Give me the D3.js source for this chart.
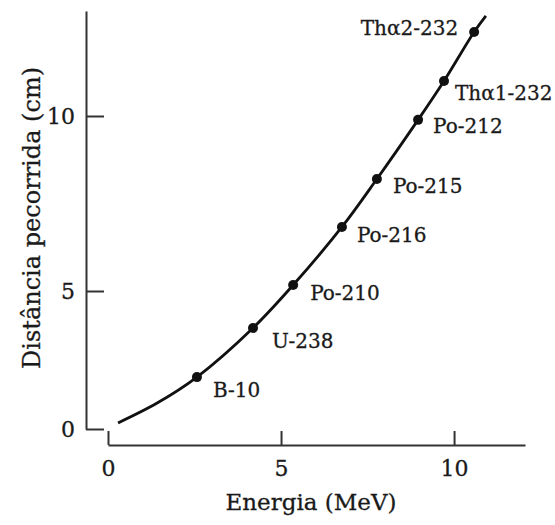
<!DOCTYPE html>
<html>
<head>
<meta charset="utf-8">
<script src="https://cdn.jsdelivr.net/npm/d3@7"></script>
<style>
  body { margin: 0; background: #fff; }
  svg text { font-family: "DejaVu Serif", serif; fill: #1a1a1a; stroke: #1a1a1a; stroke-width: 0.3px; }
</style>
</head>
<body>
<div id="chart"></div>
<script>
// alpha emitters: energy (MeV) vs range in air (cm)
var isotopes = ["B-10", "U-238", "Po-210", "Po-216", "Po-215", "Po-212", "Thα1-232", "Thα2-232"];
var energy = [2.57, 4.19, 5.35, 6.76, 7.77, 8.96, 9.71, 10.58];
var range = [1.88, 3.66, 5.17, 6.83, 8.2, 9.89, 11.0, 12.4];

// extra points along the drawn curve (ends of the line)
var curveEnergy = [0.29, 1.42, 2.57, 4.19, 5.35, 6.76, 7.77, 8.96, 9.71, 10.58, 10.92];
var curveRange = [0.22, 0.94, 1.88, 3.66, 5.17, 6.83, 8.2, 9.89, 11.0, 12.4, 12.86];

var xTicks = [0, 5, 10];
var yTicks = [0, 5, 10];

var svgWidth = 555;
var svgHeight = 525;

var svg = d3.select("#chart")
    .append("svg")
    .attr("width", svgWidth)
    .attr("height", svgHeight);

// x axis scale
var x = d3.scaleLinear()
    .domain([0, 12.05])
    .range([108, 525]);

// the scanned figure is not evenly spaced on y, so use a piecewise scale
var y = d3.scaleLinear()
    .domain([0, 5, 10, 13])
    .range([429, 291, 116, 11]);

// y axis
var yAxis = svg.append("g")
    .attr("transform", "translate(86,0)")
    .call(d3.axisLeft(y).tickValues(yTicks).tickSize(-18).tickSizeOuter(0).tickPadding(11));

// x axis
var xAxis = svg.append("g")
    .attr("transform", "translate(0,445)")
    .call(d3.axisBottom(x).tickValues(xTicks).tickSize(-14).tickSizeOuter(0).tickPadding(15));

svg.selectAll(".domain, .tick line")
    .attr("stroke", "#333")
    .attr("stroke-width", 2);

svg.selectAll(".tick text")
    .attr("font-size", "22px")
    .attr("fill", "#1a1a1a");

// axis titles
svg.append("text")
    .attr("x", 311)
    .attr("y", 510)
    .attr("text-anchor", "middle")
    .attr("font-size", "23px")
    .text("Energia (MeV)");

svg.append("text")
    .attr("transform", "translate(40,218) rotate(-90)")
    .attr("text-anchor", "middle")
    .attr("font-size", "24px")
    .text("Distância pecorrida (cm)");

// curve
var curveData = curveEnergy.map(function(e, i) { return [e, curveRange[i]]; });

var line = d3.line()
    .x(d => x(d[0]))
    .y(d => y(d[1]))
    .curve(d3.curveCatmullRom.alpha(0.5));

svg.append("path")
    .datum(curveData)
    .attr("d", line)
    .attr("fill", "none")
    .attr("stroke", "#111")
    .attr("stroke-width", 2.8);

// points
var points = isotopes.map(function(name, i) {
    return { name: name, energy: energy[i], range: range[i] };
});

svg.selectAll("circle")
    .data(points)
    .enter()
    .append("circle")
    .attr("cx", d => x(d.energy))
    .attr("cy", d => y(d.range))
    .attr("r", 5)
    .attr("fill", "#111");

// label placement next to each dot
var labelDx = [16, 19, 17, 15, 16, 15, 11, -16];
var labelDy = [20, 20, 15, 15, 14, 13, 19, 3];

svg.selectAll(".label")
    .data(points)
    .enter()
    .append("text")
    .attr("class", "label")
    .attr("x", (d, i) => x(d.energy) + labelDx[i])
    .attr("y", (d, i) => y(d.range) + labelDy[i])
    .attr("text-anchor", (d, i) => labelDx[i] < 0 ? "end" : "start")
    .attr("font-size", "20px")
    .text(d => d.name);
</script>
</body>
</html>
